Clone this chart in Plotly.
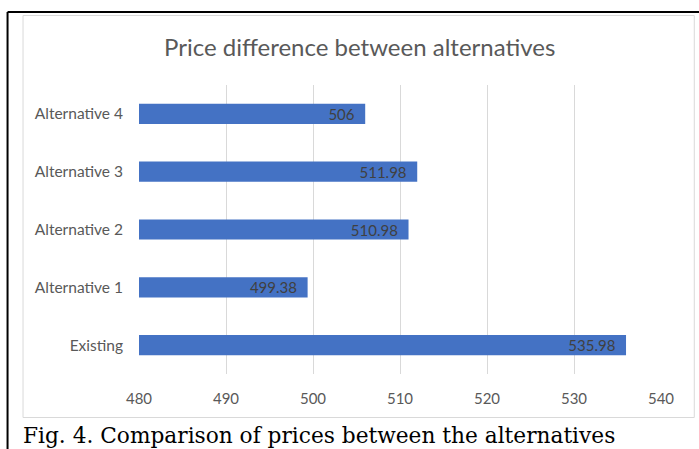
import plotly.graph_objects as go

categories = ["Existing", "Alternative 1", "Alternative 2", "Alternative 3", "Alternative 4"]
prices = [535.98, 499.38, 510.98, 511.98, 506]
labels = ["535.98", "499.38", "510.98", "511.98", "506"]
x_ticks = [480, 490, 500, 510, 520, 530, 540]

W, H = 699, 449
L, R, T, B = 138.5, 38.3, 85, 75
PW, PH = W - L - R, H - T - B


def px(x):
    return (x - L) / PW


def py(y):
    return (H - y - B) / PH


fig = go.Figure(go.Bar(
    y=categories, x=prices, orientation="h",
    marker=dict(color="#4472c4", line=dict(width=0)),
    width=0.35,
    text=[s + "\u00a0\u00a0" for s in labels], textposition="inside", insidetextanchor="end",
    textfont=dict(family="Lato", size=15, color="#404040"),
    cliponaxis=True,
))

fig.update_layout(
    width=W, height=H,
    margin=dict(l=L, r=R, t=T, b=B, pad=0),
    paper_bgcolor="white", plot_bgcolor="white",
    showlegend=False,
    font=dict(family="Lato", size=15, color="#595959"),
    uniformtext=dict(minsize=15, mode="show"),
    xaxis=dict(range=[480, 540], tickvals=x_ticks, ticktext=[str(v) for v in x_ticks],
               showgrid=True, gridcolor="#d9d9d9", gridwidth=1, zeroline=False,
               showline=False, ticks="", ticklabelstandoff=14,
               tickfont=dict(family="Lato", size=15, color="#595959"), fixedrange=True),
    yaxis=dict(categoryorder="array", categoryarray=categories, showgrid=False,
               zeroline=False, showline=False, ticks="", ticklabelstandoff=15,
               tickfont=dict(family="Lato", size=15.5, color="#595959"), fixedrange=True),
    shapes=[
        # outer black frame (left and top)
        dict(type="line", xref="paper", yref="paper",
             x0=px(7), x1=px(W + 5), y0=py(12), y1=py(12),
             line=dict(color="black", width=2)),
        dict(type="line", xref="paper", yref="paper",
             x0=px(7), x1=px(7), y0=py(12), y1=py(H + 5),
             line=dict(color="black", width=2)),
        # inner gray chart border
        dict(type="rect", xref="paper", yref="paper",
             x0=px(22.5), x1=px(694), y0=py(417.5), y1=py(15.5),
             line=dict(color="#d9d9d9", width=1), fillcolor="rgba(0,0,0,0)", layer="below"),
    ],
    annotations=[
        dict(text="Price difference between alternatives", xref="paper", yref="paper",
             x=px(359), y=py(47), xanchor="center", yanchor="middle", showarrow=False,
             font=dict(family="Lato", size=24, color="#595959")),
        dict(text="Fig. 4. Comparison of prices between the alternatives", xref="paper", yref="paper",
             x=px(20), y=py(435), xanchor="left", yanchor="middle", showarrow=False,
             font=dict(family="DejaVu Serif", size=21.7, color="black")),
    ],
)

fig.write_html("out.html")
